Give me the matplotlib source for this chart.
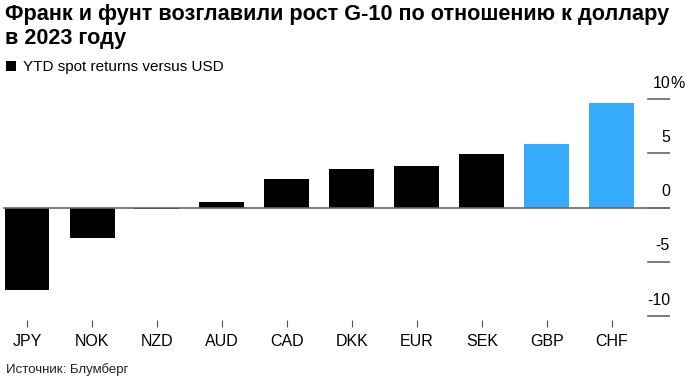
import matplotlib
matplotlib.use("Agg")
import matplotlib.pyplot as plt
from matplotlib.patches import Rectangle

categories = ["JPY", "NOK", "NZD", "AUD", "CAD", "DKK", "EUR", "SEK", "GBP", "CHF"]
values = [-7.6, -2.8, -0.15, 0.5, 2.6, 3.55, 3.8, 4.95, 5.9, 9.65]
highlight = ["GBP", "CHF"]
yticks = [10, 5, 0, -5, -10]
ytick_labels = ["10", "5", "0", "-5", "-10"]

title_line1 = "Франк и фунт возглавили рост G-10 по отношению к доллару"
title_line2 = "в 2023 году"
legend_label = "YTD spot returns versus USD"
source = "Источник: Блумберг"

FONT = ["Liberation Sans", "DejaVu Sans"]
plt.rcParams["font.family"] = FONT

W, H = 686, 380
fig = plt.figure(figsize=(W / 100, H / 100), dpi=100)

def fx(px):
    return px / W

def fy(py):
    return 1 - py / H

ax_left, ax_right, ax_top, ax_bot = 0, 670, 80, 320
ax = fig.add_axes([fx(ax_left), fy(ax_bot), fx(ax_right - ax_left), (ax_bot - ax_top) / H])

ppu = 10.84
y0_px = 207.6
ax.set_ylim(-(ax_bot - y0_px) / ppu, (y0_px - ax_top) / ppu)
spacing = 65.0
c0 = 27.0
ax.set_xlim((ax_left - c0) / spacing, (ax_right - c0) / spacing)

colors = ["#36AAFB" if c in highlight else "#000000" for c in categories]
x = list(range(len(categories)))
ax.bar(x, values, width=45 / spacing, color=colors, zorder=2)

# zero line and right ticks
ax.axhline(0, xmin=4 / 670, xmax=1, color="#666666", lw=1.2, zorder=3)
for t, lab in zip(yticks, ytick_labels):
    ax.axhline(t, xmin=648 / 670, xmax=1, color="#666666", lw=1.2, zorder=3)
    ax.annotate(lab, xy=(1.0, t), xycoords=("axes fraction", "data"),
                xytext=(0, 6), textcoords="offset points",
                ha="right", va="bottom", fontsize=11.5, color="#000000")
    if t == 10:
        ax.annotate("%", xy=(1.0, t), xycoords=("axes fraction", "data"),
                    xytext=(0, 6), textcoords="offset points",
                    ha="left", va="bottom", fontsize=11.5, color="#000000")

for s in ax.spines.values():
    s.set_visible(False)
ax.set_yticks([])
ax.set_xticks(x)
ax.set_xticklabels(categories, fontsize=11.5)
ax.tick_params(axis="x", length=5, width=0.8, color="#555555", pad=5)

fig.text(fx(5), fy(20), title_line1, fontsize=15.6, fontweight="bold", ha="left", va="baseline")
fig.text(fx(5), fy(44), title_line2, fontsize=15.6, fontweight="bold", ha="left", va="baseline")

fig.patches.append(Rectangle((fx(6), fy(71)), fx(10), 10 / H, transform=fig.transFigure,
                             facecolor="#000000", edgecolor="none"))
fig.text(fx(23), fy(71), legend_label, fontsize=11, ha="left", va="baseline")

fig.text(fx(6), fy(373), source, fontsize=9.5, ha="left", va="baseline", color="#222222")

fig.savefig("out.png", dpi=100)
